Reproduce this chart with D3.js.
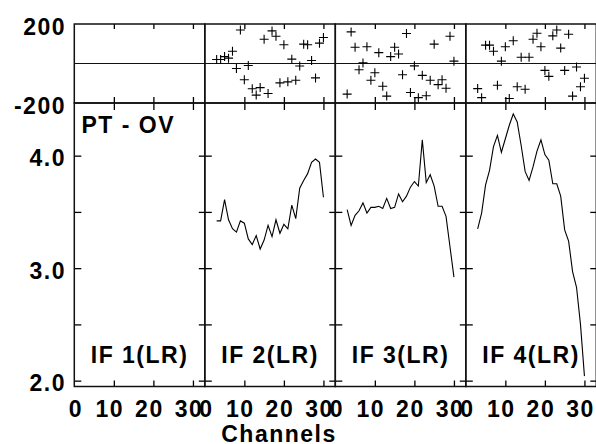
<!DOCTYPE html>
<html>
<head>
<meta charset="utf-8">
<script src="https://cdn.jsdelivr.net/npm/d3@7"></script>
<style>
  html, body { margin: 0; padding: 0; background: #fff; }
  svg text { font-family: "Liberation Sans", Arial, sans-serif; font-weight: bold; font-size: 23px; letter-spacing: 1.5px; fill: #000; }
</style>
</head>
<body>
<svg id="chart" width="596" height="444"></svg>
<script>
// channels 3..30 for every IF that has data
const channels = d3.range(3, 31);

const panelLabels = ["IF 1(LR)", "IF 2(LR)", "IF 3(LR)", "IF 4(LR)"];

// phase (deg) per channel, IF1 has no data
const phaseIF2 = [20, 20, 35, 27, 62, -25, 170, -82, -10, -128, -160, -122, 123, -152, 165, 138, -98, 95, -93, 22, -85, -13, 98, 95, 15, -73, 103, 132];
const phaseIF3 = [-155, 160, 82, -32, 3, 85, -85, -47, 55, -115, -165, 35, 82, 48, -57, 152, -147, -12, -173, -60, -163, -85, 98, -107, -82, -125, 138, 12];
const phaseIF4 = [-127, -173, 93, 93, 62, -110, 12, 85, -177, 115, -118, 32, -130, 32, 123, 153, 85, -35, -65, 140, 170, 78, -35, 148, -165, -18, -118, -75];

// amplitude per channel
const ampIF2 = [3.42, 3.42, 3.61, 3.43, 3.35, 3.32, 3.42, 3.40, 3.26, 3.21, 3.29, 3.17, 3.25, 3.38, 3.28, 3.43, 3.31, 3.39, 3.35, 3.56, 3.44, 3.71, 3.78, 3.84, 3.94, 3.97, 3.94, 3.63];
const ampIF3 = [3.52, 3.38, 3.47, 3.51, 3.58, 3.49, 3.54, 3.54, 3.55, 3.53, 3.62, 3.53, 3.54, 3.66, 3.59, 3.64, 3.72, 3.77, 3.73, 4.14, 3.76, 3.83, 3.73, 3.55, 3.55, 3.46, 3.19, 2.92];
const ampIF4 = [3.35, 3.49, 3.74, 3.87, 4.08, 4.18, 4.03, 4.15, 4.27, 4.37, 4.30, 4.09, 3.86, 3.78, 3.90, 4.04, 4.14, 4.01, 3.96, 3.75, 3.75, 3.64, 3.34, 3.24, 2.97, 2.83, 2.50, 2.04];

const phases = [null, phaseIF2, phaseIF3, phaseIF4];
const amps = [null, ampIF2, ampIF3, ampIF4];

const xTicks = [0, 10, 20, 30];
const phaseTickLabels = [200, -200];
const ampTicks = [2.0, 2.5, 3.0, 3.5, 4.0];
const ampTickLabels = [2.0, 3.0, 4.0];

const left = 74.3, pw = 130.5;
const phTop = 24, phBot = 103, ampBot = 386.5;

const svg = d3.select("#chart");

const x = d3.scaleLinear().domain([0, 33]).range([0, pw]);
const yP = d3.scaleLinear().domain([-200, 200]).range([phBot - phTop, 0]);
const yA = d3.scaleLinear().domain([1.948, 4.468]).range([ampBot - phBot, 0]);

const noDomain = g => g.select(".domain").remove();

panelLabels.forEach((lab, i) => {
  const gp = svg.append("g").attr("transform", `translate(${left + i * pw},${phTop})`);
  const ga = svg.append("g").attr("transform", `translate(${left + i * pw},${phBot})`);

  // phase strip ticks
  gp.append("g").call(d3.axisTop(x).tickValues([10, 20, 30]).tickSize(-5).tickFormat(""))
    .call(noDomain);
  gp.append("g").attr("transform", `translate(0,${yP(-200)})`)
    .call(d3.axisBottom(x).tickValues([10, 20, 30]).tickSize(-6).tickFormat(""))
    .call(noDomain);

  // amplitude ticks
  ga.append("g").call(d3.axisTop(x).tickValues([10, 20, 30]).tickSize(-7).tickFormat(""))
    .call(noDomain);
  ga.append("g").attr("transform", `translate(0,${yA.range()[0]})`)
    .call(d3.axisBottom(x).tickValues([10, 20, 30]).tickSize(-6).tickFormat(""))
    .call(noDomain);
  ga.append("g").call(d3.axisLeft(yA).tickValues(ampTicks).tickSize(-7).tickFormat(""))
    .call(noDomain);
  ga.append("g").attr("transform", `translate(${pw},0)`)
    .call(d3.axisRight(yA).tickValues(ampTicks).tickSize(-6).tickFormat(""))
    .call(noDomain);

  svg.selectAll(".tick line").attr("stroke", "#000").attr("stroke-width", 1.3);

  // x labels
  const xl = ga.append("g").attr("transform", `translate(0,${yA.range()[0]})`)
    .call(d3.axisBottom(x).tickValues(xTicks).tickSize(0).tickFormat(d3.format("d")))
    .call(noDomain);
  xl.selectAll("text")
    .attr("y", 30.5).attr("dy", null)
    .attr("dx", d => d === 0 ? 1 : -4.5)
    .style("font-size", "23px");

  // frames
  gp.append("rect").attr("width", pw).attr("height", phBot - phTop)
    .attr("fill", "none").attr("stroke", "#111").attr("stroke-width", 1.5);
  ga.append("rect").attr("width", pw).attr("height", ampBot - phBot)
    .attr("fill", "none").attr("stroke", "#111").attr("stroke-width", 1.5);
  gp.append("line").attr("x1", 0).attr("x2", pw)
    .attr("y1", yP(0)).attr("y2", yP(0))
    .attr("stroke", "#111").attr("stroke-width", 1.2);

  // phase markers
  if (phases[i]) {
    gp.selectAll("path.pt").data(phases[i]).join("path")
      .attr("class", "pt")
      .attr("transform", (d, k) => `translate(${x(channels[k])},${yP(d)})`)
      .attr("d", "M-4.5,0H4.5M0,-4.5V4.5")
      .attr("stroke", "#000").attr("stroke-width", 1.1).attr("fill", "none");
  }

  // amplitude line
  if (amps[i]) {
    const line = d3.line().x((d, k) => x(channels[k])).y(d => yA(d));
    ga.append("path").datum(amps[i])
      .attr("d", line)
      .attr("fill", "none").attr("stroke", "#000").attr("stroke-width", 1.1);
  }

  ga.append("text")
    .attr("x", pw / 2).attr("y", 363 - phBot)
    .attr("text-anchor", "middle")
    .text(lab);
});

// y labels on first panel
svg.append("g").selectAll("text").data(phaseTickLabels).join("text")
  .attr("x", 66).attr("y", d => phTop + yP(d) + 10.5)
  .attr("text-anchor", "end")
  .text(d => d);

svg.append("g").selectAll("text").data(ampTickLabels).join("text")
  .attr("x", 66).attr("y", d => phBot + yA(d) + 10.5)
  .attr("text-anchor", "end")
  .text(d => d3.format(".1f")(d));

svg.append("text").attr("x", 81.5).attr("y", 133.3).text("PT - OV");

svg.append("text").attr("x", 279).attr("y", 441.5)
  .attr("text-anchor", "middle").text("Channels");
</script>
</body>
</html>
